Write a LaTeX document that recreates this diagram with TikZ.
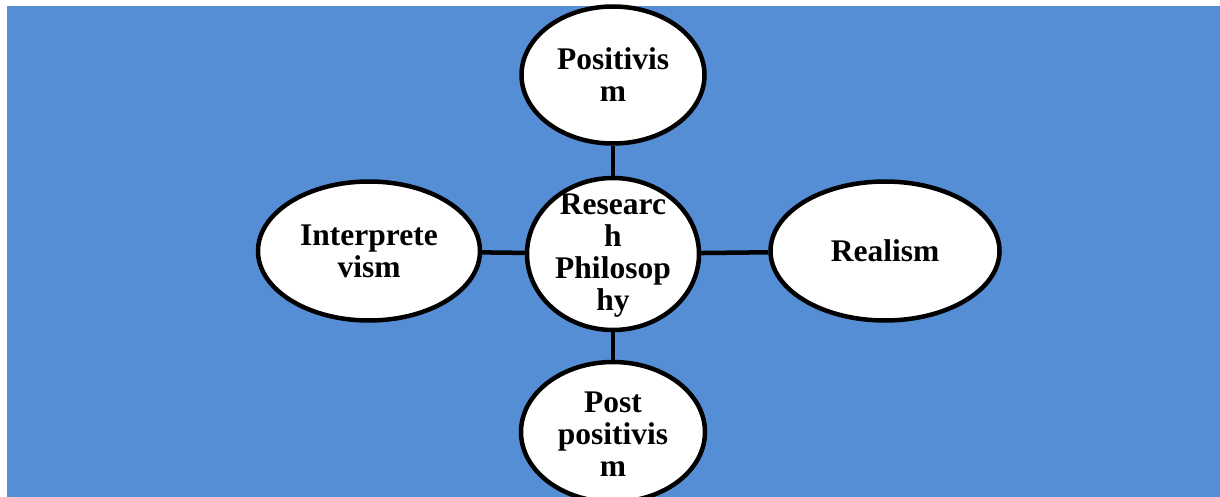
\documentclass[tikz,border=0pt]{standalone}
\usepackage{fontspec}
\setmainfont{Liberation Serif}
\usetikzlibrary{shapes.geometric}
\definecolor{bgblue}{HTML}{558ED5}
\tikzset{
  bubble/.style={draw=black, line width=4.5pt, fill=white, ellipse, inner sep=0pt},
  label text/.style={font=\fontsize{31.5}{32}\selectfont\bfseries, align=center, inner sep=0pt},
  link/.style={draw=black, line width=4.5pt}
}
\begin{document}
\begin{tikzpicture}[x=1pt, y=-1pt]
\useasboundingbox (0,0) rectangle (1220,497);
\clip (0,0) rectangle (1220,497);
\fill[bgblue] (7,6) rectangle (1220,497);
\node[bubble, minimum width=183pt, minimum height=137pt] (pos) at (613,75) {};
\node[bubble, minimum width=172pt, minimum height=152pt] (rp) at (613,254) {};
\node[bubble, minimum width=222pt, minimum height=139pt] (int) at (369,251) {};
\node[bubble, minimum width=229pt, minimum height=139pt] (real) at (885,251) {};
\node[bubble, minimum width=184pt, minimum height=140pt] (post) at (613,432) {};
\path[link] (pos) -- (rp);
\path[link] (int) -- (rp);
\path[link] (rp) -- (real);
\path[link] (rp) -- (post);
\node[label text] (tpos) at (pos.center) {Positivis\\m};
\node[label text] (trp) at ([yshift=-2pt]rp.center) {Researc\\h\\Philosop\\hy};
\node[label text] (tint) at (int.center) {Interprete\\vism};
\node[label text] (treal) at (real.center) {Realism};
\node[label text] (tpost) at ([yshift=-2pt]post.center) {Post\\positivis\\m};
\end{tikzpicture}
\end{document}
